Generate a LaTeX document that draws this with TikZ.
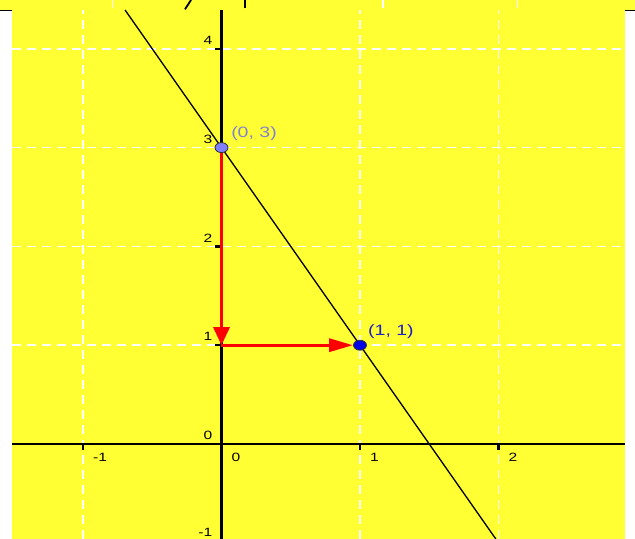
\documentclass[tikz,border=0pt]{standalone}
\usepackage{fontspec}
\usepackage{xcolor}
\usepackage{tikz}
\usetikzlibrary{positioning,arrows.meta,shapes.geometric,calc}
\newfontfamily\geofont[FakeStretch=1.3]{Liberation Sans}
\definecolor{geoyellow}{HTML}{FFFF33}
\definecolor{ptlight}{HTML}{7F7FFF}
\definecolor{ptdark}{HTML}{0000E6}
\definecolor{lblgray}{HTML}{8282D2}
\definecolor{lblblue}{HTML}{1E1EC8}
\tikzset{
  gridline/.style={white, line width=1.4pt, dash pattern=on 9pt off 6pt},
  axisline/.style={black, line width=2.6pt},
  ticklbl/.style={font=\geofont\fontsize{12}{12}\selectfont, inner sep=0pt},
  ptlbl/.style={font=\geofont\fontsize{15}{15}\selectfont, inner sep=0pt, anchor=west},
  geopoint/.style={ellipse, draw=black!80, line width=0.8pt, minimum width=13pt,
    minimum height=10pt, inner sep=0pt},
  redarrow/.style={red, line width=3.2pt}
}

\begin{document}
\begin{tikzpicture}[x=138.5pt, y=98.8pt]
  % Marco de la imagen
  \def\L{-1.5993} \def\R{2.9856} \def\B{-0.9615} \def\T{4.494}
  \def\YL{-1.5126} \def\YR{2.9134} \def\YT{4.3927}
  \useasboundingbox (\L,\B) rectangle (\R,\T);
  \fill[white] (\L,\B) rectangle (\R,\T);
  \fill[geoyellow] (\YL,\B) rectangle (\YR,\YT);
  \fill[geoyellow] (\L,\YT) rectangle (\R,\T);
  \draw[line width=1pt] (\L,\YT) -- (\YL,\YT);
  \draw[line width=1pt] (\YR,\YT) -- (\R,\YT);

  % Restos de la franja superior
  \foreach \x in {-0.79, 1.166, 2.134}{
    \draw[white, line width=1.1pt] (\x,4.41) -- (\x,\T);
  }
  \draw[line width=1.8pt] (-0.2635,4.40) -- (-0.22,\T);
  \draw[line width=1.8pt] (0.17,4.41) -- (0.17,\T);

  % Cuadricula
  \foreach \gx in {-1,1,2}{
    \draw[gridline] (\gx,\B) -- (\gx,\YT);
  }
  \foreach \gy in {-1,1,2,3,4}{
    \draw[gridline] (\YL,\gy) -- (\YR,\gy);
  }

  % Ejes y marcas
  \draw[axisline] (\YL,0) -- (\YR,0);
  \draw[axisline] (0,\B) -- (0,\YT);
  \foreach \gx in {-1,1,2}{
    \draw[axisline] (\gx,0) -- ++(0,-6pt);
  }
  \foreach \gy in {1,2,3,4}{
    \draw[axisline] (0,\gy) -- ++(-6pt,0);
  }
  \foreach \gx/\nm in {-1/m1, 0/0, 1/1, 2/2}{
    \node[ticklbl, anchor=north west] (xl\nm) at ([xshift=10pt,yshift=-9pt] \gx,0) {\gx};
  }
  \foreach \gy in {0,1,2,3,4}{
    \node[ticklbl, anchor=south east] (yl\gy) at ([xshift=-9pt,yshift=4pt] 0,\gy) {\gy};
  }
  \node[ticklbl, anchor=south east] (ylm1) at ([xshift=-9pt,yshift=6.5pt] 0,-1) {-1};

  % Recta y = 3 - 2x
  \coordinate (ltop) at ({(3-\YT)/2},\YT);
  \coordinate (lbot) at ({(3-\B)/2},\B);
  \draw[line width=1.3pt] (ltop) -- (lbot);

  % Puntos
  \node[geopoint, fill=ptlight] (p03) at (0,3) {};
  \node[geopoint, fill=ptdark] (p11) at (1,1) {};
  \coordinate (corner) at (0,1);

  % Flechas rojas
  \draw[redarrow, -{Triangle[length=18pt,width=16pt]}] (p03) -- (corner);
  \draw[redarrow, -{Triangle[length=24pt,width=13pt]}] (corner) -- (p11);

  % Etiquetas
  \node[ptlbl, text=lblgray] (l03) at (0.069,3.138) {(0, 3)};
  \node[ptlbl, text=lblblue] (l11) at (1.058,1.134) {(1, 1)};
\end{tikzpicture}
\end{document}
